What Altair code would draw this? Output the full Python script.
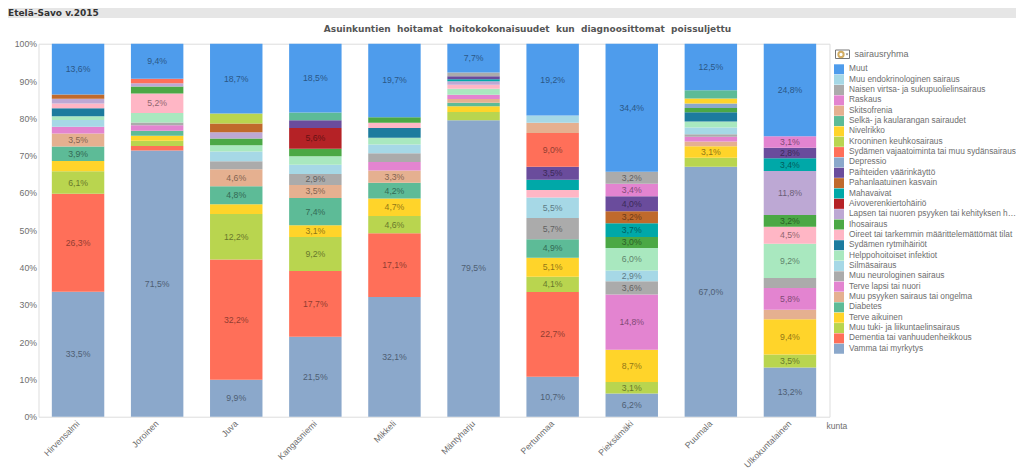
import altair as alt
import pandas as pd

# Series in legend order (top of the legend first); stacks are drawn bottom-up, i.e. reversed
series = [
    "Muut", "Muu endokrinologinen sairaus", "Naisen virtsa- ja sukupuolielinsairaus", "Raskaus",
    "Skitsofrenia", "Selkä- ja kaularangan sairaudet", "Nivelrikko", "Krooninen keuhkosairaus",
    "Sydämen vajaatoiminta tai muu sydänsairaus", "Depressio", "Päihteiden väärinkäyttö",
    "Pahanlaatuinen kasvain", "Mahavaivat", "Aivoverenkiertohäiriö",
    "Lapsen tai nuoren psyyken tai kehityksen häiriö", "Ihosairaus",
    "Oireet tai tarkemmin määrittelemättömät tilat", "Sydämen rytmihäiriöt",
    "Helppohoitoiset infektiot", "Silmäsairaus", "Muu neurologinen sairaus", "Terve lapsi tai nuori",
    "Muu psyyken sairaus tai ongelma", "Diabetes", "Terve aikuinen", "Muu tuki- ja liikuntaelinsairaus",
    "Dementia tai vanhuudenheikkous", "Vamma tai myrkytys",
]
colors = [
    "#4E9CEC", "#A6D8E6", "#ABABAB", "#E384D0", "#E5B090", "#5DBB97", "#FFD42A", "#B9D54F",
    "#FF6F59", "#8BA8CB", "#6A4C9C", "#C06A2C", "#00A8A8", "#B52226", "#BDA8D4", "#4BA845",
    "#FFB6C5", "#1C7B9E", "#A9E8BF", "#A6D8E6", "#ABABAB", "#E384D0", "#E5B090", "#5DBB97",
    "#FFD42A", "#B9D54F", "#FF6F59", "#8BA8CB",
]
municipalities = ["Hirvensalmi", "Joroinen", "Juva", "Kangasniemi", "Mikkeli", "Mäntyharju",
                  "Pertunmaa", "Pieksämäki", "Puumala", "Ulkokuntalainen"]

hirvensalmi = {"Muut": 13.6, "Pahanlaatuinen kasvain": 1.2, "Lapsen tai nuoren psyyken tai kehityksen häiriö": 1.25,
    "Oireet tai tarkemmin määrittelemättömät tilat": 1.25, "Sydämen rytmihäiriöt": 2.2, "Helppohoitoiset infektiot": 1.0,
    "Silmäsairaus": 1.8, "Terve lapsi tai nuori": 1.8, "Muu psyyken sairaus tai ongelma": 3.5, "Diabetes": 3.9,
    "Terve aikuinen": 2.7, "Muu tuki- ja liikuntaelinsairaus": 6.1, "Dementia tai vanhuudenheikkous": 26.3,
    "Vamma tai myrkytys": 33.5}
joroinen = {"Muut": 9.4, "Sydämen vajaatoiminta tai muu sydänsairaus": 1.2, "Lapsen tai nuoren psyyken tai kehityksen häiriö": 0.9,
    "Ihosairaus": 1.9, "Oireet tai tarkemmin määrittelemättömät tilat": 5.2, "Helppohoitoiset infektiot": 2.6,
    "Muu neurologinen sairaus": 0.7, "Terve lapsi tai nuori": 1.5, "Diabetes": 1.3, "Terve aikuinen": 1.4,
    "Muu tuki- ja liikuntaelinsairaus": 1.4, "Dementia tai vanhuudenheikkous": 1.2, "Vamma tai myrkytys": 71.5}
juva = {"Muut": 18.7, "Krooninen keuhkosairaus": 2.7, "Pahanlaatuinen kasvain": 2.3,
    "Lapsen tai nuoren psyyken tai kehityksen häiriö": 1.7, "Ihosairaus": 1.8, "Helppohoitoiset infektiot": 1.7,
    "Silmäsairaus": 2.6, "Muu neurologinen sairaus": 2.1, "Muu psyyken sairaus tai ongelma": 4.6, "Diabetes": 4.8,
    "Terve aikuinen": 2.6, "Muu tuki- ja liikuntaelinsairaus": 12.2, "Dementia tai vanhuudenheikkous": 32.2,
    "Vamma tai myrkytys": 9.9}
kangasniemi = {"Muut": 18.5, "Selkä- ja kaularangan sairaudet": 2.1, "Päihteiden väärinkäyttö": 2.1,
    "Aivoverenkiertohäiriö": 5.6, "Ihosairaus": 2.0, "Helppohoitoiset infektiot": 2.3, "Silmäsairaus": 2.5,
    "Muu neurologinen sairaus": 2.9, "Muu psyyken sairaus tai ongelma": 3.5, "Diabetes": 7.4, "Terve aikuinen": 3.1,
    "Muu tuki- ja liikuntaelinsairaus": 9.2, "Dementia tai vanhuudenheikkous": 17.7, "Vamma tai myrkytys": 21.5}
mikkeli = {"Muut": 19.7, "Ihosairaus": 1.5, "Oireet tai tarkemmin määrittelemättömät tilat": 1.4,
    "Sydämen rytmihäiriöt": 2.6, "Helppohoitoiset infektiot": 1.8, "Silmäsairaus": 2.4, "Muu neurologinen sairaus": 2.3,
    "Terve lapsi tai nuori": 2.3, "Muu psyyken sairaus tai ongelma": 3.3, "Diabetes": 4.2, "Terve aikuinen": 4.7,
    "Muu tuki- ja liikuntaelinsairaus": 4.6, "Dementia tai vanhuudenheikkous": 17.1, "Vamma tai myrkytys": 32.1}
mantyharju = {"Muut": 7.7, "Naisen virtsa- ja sukupuolielinsairaus": 1.0, "Päihteiden väärinkäyttö": 0.8,
    "Mahavaivat": 0.6, "Lapsen tai nuoren psyyken tai kehityksen häiriö": 0.9,
    "Oireet tai tarkemmin määrittelemättömät tilat": 1.1, "Helppohoitoiset infektiot": 1.6, "Terve lapsi tai nuori": 1.1,
    "Muu psyyken sairaus tai ongelma": 1.0, "Diabetes": 1.0, "Terve aikuinen": 1.5,
    "Muu tuki- ja liikuntaelinsairaus": 2.2, "Vamma tai myrkytys": 79.5}
pertunmaa = {"Muut": 19.2, "Muu endokrinologinen sairaus": 2.0, "Skitsofrenia": 2.75,
    "Sydämen vajaatoiminta tai muu sydänsairaus": 9.0, "Päihteiden väärinkäyttö": 3.5, "Mahavaivat": 2.75,
    "Oireet tai tarkemmin määrittelemättömät tilat": 2.0, "Silmäsairaus": 5.5, "Muu neurologinen sairaus": 5.7,
    "Diabetes": 4.9, "Terve aikuinen": 5.1, "Muu tuki- ja liikuntaelinsairaus": 4.1,
    "Dementia tai vanhuudenheikkous": 22.7, "Vamma tai myrkytys": 10.7}
pieksamaki = {"Muut": 34.4, "Naisen virtsa- ja sukupuolielinsairaus": 3.2, "Raskaus": 3.4, "Päihteiden väärinkäyttö": 4.0,
    "Pahanlaatuinen kasvain": 3.2, "Mahavaivat": 3.7, "Ihosairaus": 3.0, "Helppohoitoiset infektiot": 6.0,
    "Silmäsairaus": 2.9, "Muu neurologinen sairaus": 3.6, "Terve lapsi tai nuori": 14.8, "Terve aikuinen": 8.7,
    "Muu tuki- ja liikuntaelinsairaus": 3.1, "Vamma tai myrkytys": 6.2}
puumala = {"Muut": 12.5, "Selkä- ja kaularangan sairaudet": 2.2, "Nivelrikko": 1.3, "Depressio": 1.25, "Ihosairaus": 1.1,
    "Sydämen rytmihäiriöt": 2.5, "Helppohoitoiset infektiot": 1.6, "Silmäsairaus": 1.8, "Muu neurologinen sairaus": 0.7,
    "Terve lapsi tai nuori": 1.25, "Muu psyyken sairaus tai ongelma": 1.25, "Terve aikuinen": 3.1,
    "Muu tuki- ja liikuntaelinsairaus": 2.4, "Vamma tai myrkytys": 67.0}
ulkokuntalainen = {"Muut": 24.8, "Raskaus": 3.1, "Päihteiden väärinkäyttö": 2.8, "Mahavaivat": 3.4,
    "Lapsen tai nuoren psyyken tai kehityksen häiriö": 11.8, "Ihosairaus": 3.2,
    "Oireet tai tarkemmin määrittelemättömät tilat": 4.5, "Helppohoitoiset infektiot": 9.2, "Muu neurologinen sairaus": 2.7,
    "Terve lapsi tai nuori": 5.8, "Muu psyyken sairaus tai ongelma": 2.6, "Terve aikuinen": 9.4,
    "Muu tuki- ja liikuntaelinsairaus": 3.5, "Vamma tai myrkytys": 13.2}

columns = [hirvensalmi, joroinen, juva, kangasniemi, mikkeli, mantyharju, pertunmaa, pieksamaki, puumala, ulkokuntalainen]

ytick_values = list(range(0, 101, 10))
main_title = "Asuinkuntien \u00a0hoitamat \u00a0hoitokokonaisuudet \u00a0kun \u00a0diagnoosittomat \u00a0poissuljettu"
window_title = "Etelä-Savo v.2015"
legend_title = "sairausryhma"
x_title = "kunta"

rows = []
for name, col in zip(municipalities, columns):
    total = sum(col.values())
    y = 0.0
    for s in reversed(series):
        if s in col:
            v = col[s]
            h = v * 100.0 / total
            rows.append({"kunta": name, "sairausryhma": s, "y0": y, "y1": y + h, "mid": y + h / 2,
                         "label": f"{v:.1f}%".replace(".", ",") if v >= 2.8 else ""})
            y += h
df = pd.DataFrame(rows)

FONT = "Liberation Sans"
GREY = "#6e6e6e"
W, H = 791, 373
LEFT, TOP = 30.5, 35.7  # plot area offset inside the svg
TOTAL_W, TOTAL_H = 1008, 461


def px(x):
    return x - 38.5


def py(y):
    return y - 43.7


x_axis = alt.Axis(labelAngle=-45, labelAlign="right", labelBaseline="middle", labelPadding=5,
                  labelFontSize=8.8, labelFont=FONT, labelColor=GREY, ticks=False, domain=False,
                  labelOverlap=False, labelLimit=200,
                  title=x_title, titleFont=FONT, titleFontSize=8.5, titleFontWeight="normal",
                  titleColor=GREY, titleX=px(826), titleY=5, titleAlign="left", titleAnchor="start",
                  titleBaseline="top")
x_scale = alt.Scale(paddingInner=0.337, paddingOuter=0.1685)
x_enc = alt.X("kunta:N", sort=municipalities, scale=x_scale, axis=x_axis)
y_axis = alt.Axis(values=ytick_values, tickCount=11, labelExpr="datum.value + '%'", ticks=False, domain=False,
                  grid=False, labelFontSize=8.7, labelFont=FONT, labelColor=GREY, labelPadding=2,
                  labelOverlap=False, title=None)
y_scale = alt.Scale(domain=[0, 100], nice=False)
y_enc = alt.Y("y0:Q", scale=y_scale, axis=y_axis)

bars = alt.Chart(df).mark_bar(stroke=None).encode(
    x=x_enc, y=y_enc, y2="y1:Q",
    color=alt.Color("sairausryhma:N", sort=series,
                    scale=alt.Scale(domain=series, range=colors),
                    legend=alt.Legend(orient="none", legendX=px(834), legendY=py(64.3), title=None,
                                      symbolType="square", symbolSize=100, symbolStrokeWidth=0,
                                      symbolOpacity=1, labelFont=FONT, labelFontSize=8.3, labelColor=GREY,
                                      labelOffset=5, labelLimit=167, rowPadding=0.35, padding=0,
                                      values=series, columns=1)),
)
labels = alt.Chart(df[df.label != ""]).mark_text(font=FONT, fontSize=8.7, color="#000000", opacity=0.45).encode(
    x=alt.X("kunta:N", sort=municipalities, scale=x_scale, axis=x_axis),
    y=alt.Y("mid:Q", scale=y_scale, axis=y_axis), text="label:N",
)

chrome_top = pd.DataFrame({"t": [window_title], "m": [main_title], "l": [legend_title]})
bar_band = alt.Chart(chrome_top).mark_rect(color="#e6e6e6").encode(
    x=alt.value(px(8)), x2=alt.value(px(1016)), y=alt.value(py(8)), y2=alt.value(py(18)))
window_text = alt.Chart(chrome_top).mark_text(font="DejaVu Sans", fontSize=9, fontWeight="bold", color="#333333",
                                              align="left", baseline="alphabetic").encode(
    x=alt.value(px(8)), y=alt.value(py(15.5)), text="t:N")
title_text = alt.Chart(chrome_top).mark_text(font="DejaVu Sans", fontSize=9, fontWeight="bold", color="#555555",
                                             align="center", baseline="middle").encode(
    x=alt.value(px(527.5)), y=alt.value(py(28.5)), text="m:N")
legend_head = alt.Chart(chrome_top).mark_text(
    font=FONT, fontSize=9, color=GREY, align="left", baseline="middle").encode(
    x=alt.value(px(854.5)), y=alt.value(py(53.5)), text="l:N")
icon_box = alt.Chart(chrome_top).mark_rect(fill="#ffffff", stroke="#777777", strokeWidth=1).encode(
    x=alt.value(px(835.5)), x2=alt.value(px(849.5)), y=alt.value(py(50)), y2=alt.value(py(58.5)))
icon_ring = alt.Chart(chrome_top).mark_point(shape="circle", filled=False, color="#c08a20", strokeWidth=2, size=28).encode(
    x=alt.value(px(841)), y=alt.value(py(54.5)))
icon_arrow = alt.Chart(chrome_top).mark_point(shape="triangle-down", filled=True, color="#333333", size=6).encode(
    x=alt.value(px(847)), y=alt.value(py(54.5)))

chart = alt.layer(bar_band, window_text, title_text, bars, labels, legend_head, icon_box, icon_ring, icon_arrow).properties(
    width=W, height=H,
    padding={"left": LEFT, "top": TOP, "right": TOTAL_W - LEFT - W, "bottom": TOTAL_H - TOP - H},
    autosize=alt.AutoSizeParams(type="none"),
).configure_view(stroke=None).configure(background="#ffffff")

chart.save("out.html", embed_options={"renderer": "svg", "actions": False})
